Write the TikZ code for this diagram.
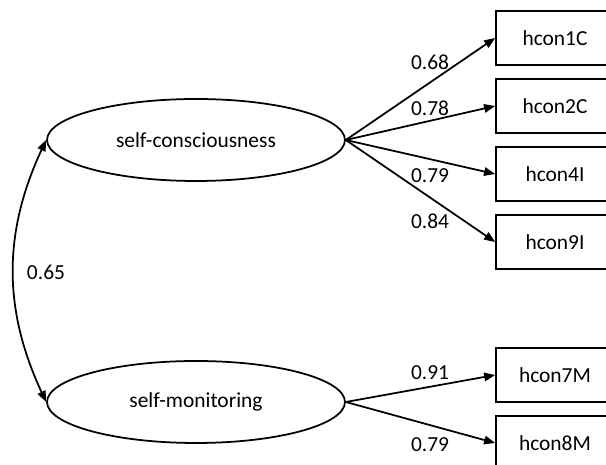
\documentclass[tikz,border=0pt]{standalone}
\usepackage{fontspec}
\setmainfont{Carlito}
\usepackage{tikz}
\usetikzlibrary{shapes.geometric,arrows.meta}

\begin{document}
\begin{tikzpicture}[x=0.02cm, y=-0.02cm,
	font=\fontsize{12.2}{14}\selectfont,
	latent/.style={ellipse, draw, line width=1pt, minimum width=5.96cm, minimum height=1.64cm},
	item/.style={rectangle, draw, line width=1pt, minimum width=2.36cm, minimum height=1.08cm},
	load/.style={-{Triangle[length=2.2mm,width=1.7mm]}, line width=1pt},
	corr/.style={{Triangle[length=2.2mm,width=1.7mm]}-{Triangle[length=2.2mm,width=1.7mm]}, line width=1pt}]
			\useasboundingbox (0,0) rectangle (606,465);
			\clip (0,0) rectangle (606,465);
			\node[latent] (sc) at (196,140) {self-consciousness};
			\node[latent] (sm) at (196,402) {self-monitoring};
			\node[item] (h1) at (555,38) {hcon1C};
			\node[item] (h2) at (555,106) {hcon2C};
			\node[item] (h4) at (555,174) {hcon4I};
			\node[item] (h9) at (555,242) {hcon9I};
			\node[item] (h7) at (555,375) {hcon7M};
			\node[item] (h8) at (555,443) {hcon8M};
			\draw[load] (sc.east)--(h1.west);
			\draw[load] (sc.east)--(h2.west);
			\draw[load] (sc.east)--(h4.west);
			\draw[load] (sc.east)--(h9.west);
			\draw[load] (sm.east)--(h7.west);
			\draw[load] (sm.east)--(h8.west);
			\draw[corr] (sc.west) to[bend right=25] (sm.west);
			\node (l1) at (430,62) {0.68};
			\node (l2) at (430,108) {0.78};
			\node (l4) at (430,176) {0.79};
			\node (l9) at (430,221) {0.84};
			\node (l7) at (430,373) {0.91};
			\node (l8) at (430,445) {0.79};
			\node (lc) at (46,272) {0.65};
			\end{tikzpicture}
\end{document}
